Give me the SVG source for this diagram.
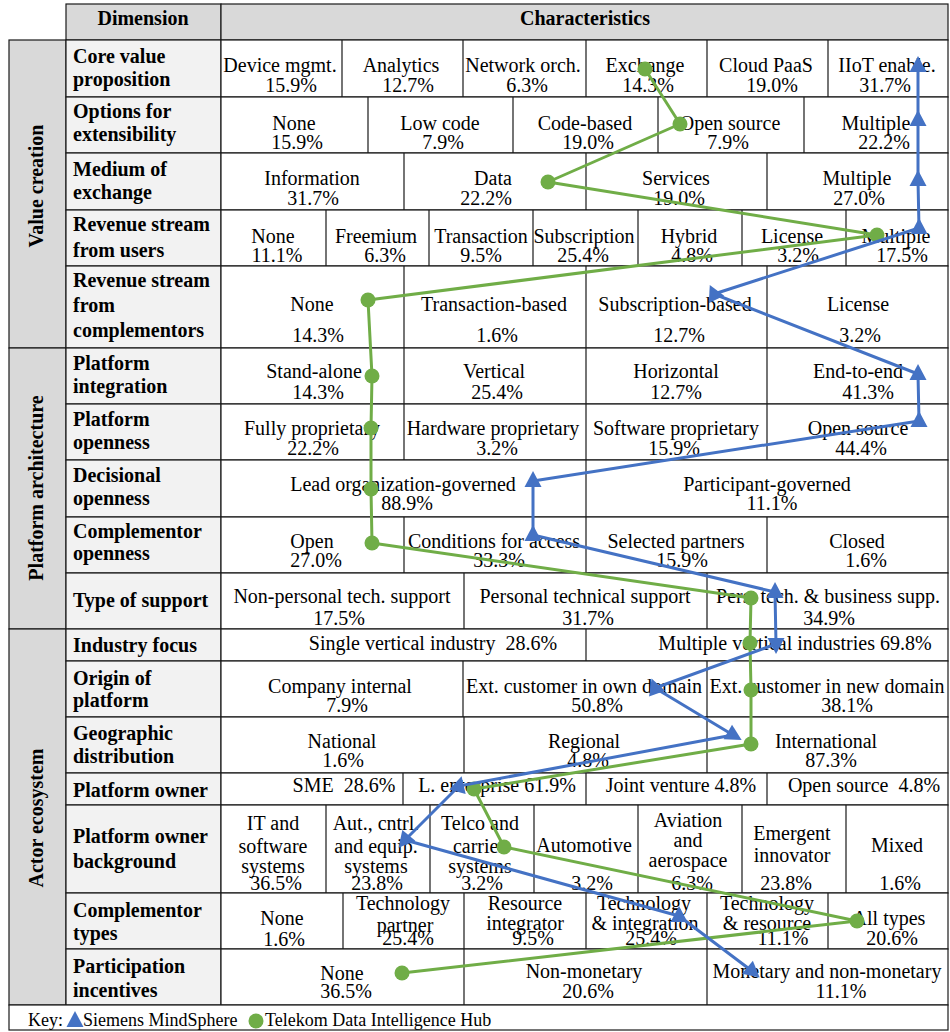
<svg xmlns="http://www.w3.org/2000/svg" xmlns:xlink="http://www.w3.org/1999/xlink" width="950" height="1032" viewBox="0 0 950 1032">
<defs>
<style>
.hd{fill:#d9d9d9;stroke:#1a1a1a;stroke-width:1.2}
.cat{fill:#d9d9d9;stroke:#1a1a1a;stroke-width:1.2}
.dim{fill:#f2f2f2;stroke:#1a1a1a;stroke-width:1.2}
.cell{fill:#ffffff;stroke:#1a1a1a;stroke-width:1.2}
.sep{fill:none;stroke:#1a1a1a;stroke-width:1.2}
text{font-family:"Liberation Serif","Times New Roman",serif;font-size:20px;fill:#000}
.t{text-anchor:middle}
.b{font-weight:bold;text-anchor:middle}
.dl{font-weight:bold;text-anchor:start}
.k{font-size:18px}
.pre{white-space:pre}
.gl{fill:none;stroke:#70ad47;stroke-width:3;stroke-linejoin:round}
.bl{fill:none;stroke:#4472c4;stroke-width:3;stroke-linejoin:round}
</style>
<path id="tri" d="M0,-10 L8.5,6 L-8.5,6 Z" fill="#4472c4"/>
<circle id="dot" r="7.5" fill="#70ad47"/>
</defs>
<rect x="0" y="0" width="950" height="1032" fill="#ffffff"/>

<g id="header">
<rect class="hd" x="66" y="4" width="155" height="36"/>
<rect class="hd" x="221" y="4" width="727" height="36"/>
<text class="b" x="143" y="25">Dimension</text>
<text class="b" x="585" y="25">Characteristics</text>
</g>

<g id="cat-value-creation">
<rect class="cat" x="9" y="40" width="57" height="308"/>
<text class="b" transform="translate(43,186) rotate(-90)">Value creation</text>
</g>
<g id="cat-platform-architecture">
<rect class="cat" x="9" y="348" width="57" height="281"/>
<text class="b" transform="translate(43,488) rotate(-90)">Platform architecture</text>
</g>
<g id="cat-actor-ecosystem">
<rect class="cat" x="9" y="629" width="57" height="376"/>
<text class="b" transform="translate(43,818) rotate(-90)">Actor ecosystem</text>
</g>

<g id="row-core-value">
<rect class="dim" x="66" y="40" width="155" height="57"/>
<rect class="cell" x="221" y="40" width="727" height="57"/>
<path class="sep" d="M342 40V97M463 40V97M586 40V97M707 40V97M828 40V97"/>
<text class="dl" x="73" y="63">Core value</text><text class="dl" x="73" y="86">proposition</text>
<text class="t" x="280" y="72">Device mgmt.</text><text class="t" x="291" y="92">15.9%</text>
<text class="t" x="401" y="72">Analytics</text><text class="t" x="408" y="92">12.7%</text>
<text class="t" x="523" y="72">Network orch.</text><text class="t" x="527" y="92">6.3%</text>
<text class="t" x="645" y="72">Exchange</text><text class="t" x="648" y="92">14.3%</text>
<text class="t" x="766" y="72">Cloud PaaS</text><text class="t" x="772" y="92">19.0%</text>
<text class="t" x="887" y="72">IIoT enable.</text><text class="t" x="885" y="92">31.7%</text>
</g>

<g id="row-extensibility">
<rect class="dim" x="66" y="97" width="155" height="56"/>
<rect class="cell" x="221" y="97" width="727" height="56"/>
<path class="sep" d="M368 97V153M513 97V153M658 97V153M804 97V153"/>
<text class="dl" x="73" y="118">Options for</text><text class="dl" x="73" y="141">extensibility</text>
<text class="t" x="294" y="130">None</text><text class="t" x="297" y="149">15.9%</text>
<text class="t" x="440" y="130">Low code</text><text class="t" x="443" y="149">7.9%</text>
<text class="t" x="585" y="130">Code-based</text><text class="t" x="588" y="149">19.0%</text>
<text class="t" x="730" y="130">Open source</text><text class="t" x="728" y="149">7.9%</text>
<text class="t" x="876" y="130">Multiple</text><text class="t" x="884" y="149">22.2%</text>
</g>

<g id="row-medium">
<rect class="dim" x="66" y="153" width="155" height="57"/>
<rect class="cell" x="221" y="153" width="727" height="57"/>
<path class="sep" d="M404 153V210M586 153V210M767 153V210"/>
<text class="dl" x="73" y="176">Medium of</text><text class="dl" x="73" y="199">exchange</text>
<text class="t" x="312" y="185">Information</text><text class="t" x="313" y="205">31.7%</text>
<text class="t" x="493" y="185">Data</text><text class="t" x="486" y="205">22.2%</text>
<text class="t" x="676" y="185">Services</text><text class="t" x="679" y="205">19.0%</text>
<text class="t" x="857" y="185">Multiple</text><text class="t" x="859" y="205">27.0%</text>
</g>

<g id="row-revenue-users">
<rect class="dim" x="66" y="210" width="155" height="56"/>
<rect class="cell" x="221" y="210" width="727" height="56"/>
<path class="sep" d="M326 210V266M429 210V266M533 210V266M638 210V266M742 210V266M846 210V266"/>
<text class="dl" x="73" y="231">Revenue stream</text><text class="dl" x="73" y="257">from users</text>
<text class="t" x="273" y="243">None</text><text class="t" x="277" y="262">11.1%</text>
<text class="t" x="376" y="243">Freemium</text><text class="t" x="385" y="262">6.3%</text>
<text class="t" x="481" y="243">Transaction</text><text class="t" x="481" y="262">9.5%</text>
<text class="t" x="584" y="243">Subscription</text><text class="t" x="583" y="262">25.4%</text>
<text class="t" x="689" y="243">Hybrid</text><text class="t" x="692" y="262">4.8%</text>
<text class="t" x="792" y="243">License</text><text class="t" x="798" y="262">3.2%</text>
<text class="t" x="896" y="243">Multiple</text><text class="t" x="902" y="262">17.5%</text>
</g>

<g id="row-revenue-complementors">
<rect class="dim" x="66" y="266" width="155" height="82"/>
<rect class="cell" x="221" y="266" width="727" height="82"/>
<path class="sep" d="M404 266V348M586 266V348M767 266V348"/>
<text class="dl" x="73" y="287">Revenue stream</text><text class="dl" x="73" y="312">from</text><text class="dl" x="73" y="337">complementors</text>
<text class="t" x="312" y="311">None</text><text class="t" x="318" y="342">14.3%</text>
<text class="t" x="494" y="311">Transaction-based</text><text class="t" x="497" y="342">1.6%</text>
<text class="t" x="675" y="311">Subscription-based</text><text class="t" x="679" y="342">12.7%</text>
<text class="t" x="858" y="311">License</text><text class="t" x="860" y="342">3.2%</text>
</g>

<g id="row-platform-integration">
<rect class="dim" x="66" y="348" width="155" height="56"/>
<rect class="cell" x="221" y="348" width="727" height="56"/>
<path class="sep" d="M404 348V404M586 348V404M767 348V404"/>
<text class="dl" x="73" y="370">Platform</text><text class="dl" x="73" y="393">integration</text>
<text class="t" x="314" y="378">Stand-alone</text><text class="t" x="318" y="399">14.3%</text>
<text class="t" x="494" y="378">Vertical</text><text class="t" x="497" y="399">25.4%</text>
<text class="t" x="676" y="378">Horizontal</text><text class="t" x="676" y="399">12.7%</text>
<text class="t" x="858" y="378">End-to-end</text><text class="t" x="868" y="399">41.3%</text>
</g>

<g id="row-platform-openness">
<rect class="dim" x="66" y="404" width="155" height="56"/>
<rect class="cell" x="221" y="404" width="727" height="56"/>
<path class="sep" d="M404 404V460M586 404V460M767 404V460"/>
<text class="dl" x="73" y="426">Platform</text><text class="dl" x="73" y="449">openness</text>
<text class="t" x="312" y="435">Fully proprietary</text><text class="t" x="313" y="455">22.2%</text>
<text class="t" x="493" y="435">Hardware proprietary</text><text class="t" x="497" y="455">3.2%</text>
<text class="t" x="676" y="435">Software proprietary</text><text class="t" x="674" y="455">15.9%</text>
<text class="t" x="858" y="435">Open source</text><text class="t" x="861" y="455">44.4%</text>
</g>

<g id="row-decisional-openness">
<rect class="dim" x="66" y="460" width="155" height="57"/>
<rect class="cell" x="221" y="460" width="727" height="57"/>
<path class="sep" d="M586 460V517"/>
<text class="dl" x="73" y="482">Decisional</text><text class="dl" x="73" y="505">openness</text>
<text class="t" x="403" y="491">Lead organization-governed</text><text class="t" x="407" y="510">88.9%</text>
<text class="t" x="767" y="491">Participant-governed</text><text class="t" x="772" y="510">11.1%</text>
</g>

<g id="row-complementor-openness">
<rect class="dim" x="66" y="517" width="155" height="56"/>
<rect class="cell" x="221" y="517" width="727" height="56"/>
<path class="sep" d="M404 517V573M586 517V573M767 517V573"/>
<text class="dl" x="73" y="538">Complementor</text><text class="dl" x="73" y="560">openness</text>
<text class="t" x="312" y="548">Open</text><text class="t" x="316" y="567">27.0%</text>
<text class="t" x="494" y="548">Conditions for access</text><text class="t" x="499" y="567">33.3%</text>
<text class="t" x="676" y="548">Selected partners</text><text class="t" x="682" y="567">15.9%</text>
<text class="t" x="857" y="548">Closed</text><text class="t" x="866" y="567">1.6%</text>
</g>

<g id="row-type-of-support">
<rect class="dim" x="66" y="573" width="155" height="56"/>
<rect class="cell" x="221" y="573" width="727" height="56"/>
<path class="sep" d="M464 573V629M707 573V629"/>
<text class="dl" x="73" y="607">Type of support</text>
<text class="t" x="342" y="603">Non-personal tech. support</text><text class="t" x="339" y="625">17.5%</text>
<text class="t" x="585" y="603">Personal technical support</text><text class="t" x="588" y="625">31.7%</text>
<text class="t" x="828" y="603">Pers. tech. &amp; business supp.</text><text class="t" x="829" y="625">34.9%</text>
</g>

<g id="row-industry-focus">
<rect class="dim" x="66" y="629" width="155" height="32"/>
<rect class="cell" x="221" y="629" width="727" height="32"/>
<path class="sep" d="M586 629V661"/>
<text class="dl" x="73" y="652">Industry focus</text>
<text class="t pre" x="433" y="650">Single vertical industry  28.6%</text>
<text class="t" x="795" y="650">Multiple vertical industries 69.8%</text>
</g>

<g id="row-origin">
<rect class="dim" x="66" y="661" width="155" height="56"/>
<rect class="cell" x="221" y="661" width="727" height="56"/>
<path class="sep" d="M463 661V717M707 661V717"/>
<text class="dl" x="73" y="685">Origin of</text><text class="dl" x="73" y="707">platform</text>
<text class="t" x="340" y="693">Company internal</text><text class="t" x="347" y="712">7.9%</text>
<text class="t" x="584" y="693">Ext. customer in own domain</text><text class="t" x="597" y="712">50.8%</text>
<text class="t" x="827" y="693">Ext. customer in new domain</text><text class="t" x="847" y="712">38.1%</text>
</g>

<g id="row-geographic">
<rect class="dim" x="66" y="717" width="155" height="56"/>
<rect class="cell" x="221" y="717" width="727" height="56"/>
<path class="sep" d="M464 717V773M707 717V773"/>
<text class="dl" x="73" y="740">Geographic</text><text class="dl" x="73" y="763">distribution</text>
<text class="t" x="342" y="748">National</text><text class="t" x="343" y="767">1.6%</text>
<text class="t" x="584" y="748">Regional</text><text class="t" x="588" y="767">4.8%</text>
<text class="t" x="826" y="748">International</text><text class="t" x="831" y="767">87.3%</text>
</g>

<g id="row-platform-owner">
<rect class="dim" x="66" y="773" width="155" height="32"/>
<rect class="cell" x="221" y="773" width="727" height="32"/>
<path class="sep" d="M403 773V805M586 773V805M767 773V805"/>
<text class="dl" x="73" y="797">Platform owner</text>
<text class="t pre" x="344" y="792">SME  28.6%</text>
<text class="t" x="497" y="792">L. enterprise 61.9%</text>
<text class="t" x="681" y="792">Joint venture 4.8%</text>
<text class="t pre" x="864" y="792">Open source  4.8%</text>
</g>

<g id="row-owner-background">
<rect class="dim" x="66" y="805" width="155" height="88"/>
<rect class="cell" x="221" y="805" width="727" height="88"/>
<path class="sep" d="M326 805V893M430 805V893M534 805V893M638 805V893M742 805V893M846 805V893"/>
<text class="dl" x="73" y="843">Platform owner</text><text class="dl" x="73" y="868">background</text>
<text class="t" x="273" y="830">IT and</text><text class="t" x="273" y="853">software</text><text class="t" x="273" y="873">systems</text><text class="t" x="276" y="890">36.5%</text>
<text class="t" x="376" y="830">Aut., cntrl.</text><text class="t" x="376" y="853">and equip.</text><text class="t" x="376" y="873">systems</text><text class="t" x="377" y="890">23.8%</text>
<text class="t" x="480" y="830">Telco and</text><text class="t" x="479" y="853">carrier</text><text class="t" x="480" y="873">systems</text><text class="t" x="482" y="890">3.2%</text>
<text class="t" x="584" y="852">Automotive</text><text class="t" x="592" y="890">3.2%</text>
<text class="t" x="688" y="827">Aviation</text><text class="t" x="688" y="847">and</text><text class="t" x="688" y="867">aerospace</text><text class="t" x="692" y="890">6.3%</text>
<text class="t" x="792" y="840">Emergent</text><text class="t" x="792" y="862">innovator</text><text class="t" x="786" y="890">23.8%</text>
<text class="t" x="897" y="852">Mixed</text><text class="t" x="900" y="890">1.6%</text>
</g>

<g id="row-complementor-types">
<rect class="dim" x="66" y="893" width="155" height="56"/>
<rect class="cell" x="221" y="893" width="727" height="56"/>
<path class="sep" d="M343 893V949M464 893V949M586 893V949M707 893V949M828 893V949"/>
<text class="dl" x="73" y="917">Complementor</text><text class="dl" x="73" y="940">types</text>
<text class="t" x="282" y="925">None</text><text class="t" x="284" y="946">1.6%</text>
<text class="t" x="403" y="910">Technology</text><text class="t" x="405" y="932">partner</text><text class="t" x="408" y="945">25.4%</text>
<text class="t" x="525" y="910">Resource</text><text class="t" x="525" y="930">integrator</text><text class="t" x="533" y="945">9.5%</text>
<text class="t" x="644" y="910">Technology</text><text class="t" x="645" y="930">&amp; integration</text><text class="t" x="651" y="945">25.4%</text>
<text class="t" x="767" y="910">Technology</text><text class="t" x="767" y="930">&amp; resource</text><text class="t" x="783" y="945">11.1%</text>
<text class="t" x="889" y="925">All types</text><text class="t" x="892" y="945">20.6%</text>
</g>

<g id="row-participation">
<rect class="dim" x="66" y="949" width="155" height="56"/>
<rect class="cell" x="221" y="949" width="727" height="56"/>
<path class="sep" d="M464 949V1005M707 949V1005"/>
<text class="dl" x="73" y="973">Participation</text><text class="dl" x="73" y="997">incentives</text>
<text class="t" x="342" y="980">None</text><text class="t" x="346" y="998">36.5%</text>
<text class="t" x="584" y="978">Non-monetary</text><text class="t" x="588" y="998">20.6%</text>
<text class="t" x="827" y="978">Monetary and non-monetary</text><text class="t" x="841" y="998">11.1%</text>
</g>

<g id="key">
<rect class="cell" x="9" y="1005" width="939" height="25"/>
<text class="k" x="28" y="1026">Key:</text>
<use xlink:href="#tri" href="#tri" transform="translate(75,1021)"/>
<text class="k" x="83" y="1026">Siemens MindSphere</text>
<use xlink:href="#dot" href="#dot" x="256" y="1021"/>
<text class="k" x="265" y="1026">Telekom Data Intelligence Hub</text>
</g>

<g id="connectors">
<g id="series-telekom">
<polyline class="gl" points="645,69 680,124 548,182 877,235 368,300 372,376 371,428 371,489 372,543 751,598 750,643 751,690 751,744 474,789 504,847 857,921 402,973"/>
<use href="#dot" x="645" y="69"/><use href="#dot" x="680" y="124"/><use href="#dot" x="548" y="182"/><use href="#dot" x="877" y="235"/>
<use href="#dot" x="368" y="300"/><use href="#dot" x="372" y="376"/><use href="#dot" x="371" y="428"/><use href="#dot" x="371" y="489"/>
<use href="#dot" x="372" y="543"/><use href="#dot" x="751" y="598"/><use href="#dot" x="750" y="643"/><use href="#dot" x="751" y="690"/>
<use href="#dot" x="751" y="744"/><use href="#dot" x="474" y="789"/><use href="#dot" x="504" y="847"/><use href="#dot" x="857" y="921"/>
<use href="#dot" x="402" y="973"/>
</g>
<g id="series-siemens">
<polyline class="bl" points="918,66 918,120 918,180 919,228 714,294 918,374 919,421 533,481 533,535 775,592 776,644 655,688 733,735 459,786 405,840 679,916 752,971"/>
<use href="#tri" transform="translate(918,66)"/>
<use href="#tri" transform="translate(918,120)"/>
<use href="#tri" transform="translate(918,180)"/>
<use href="#tri" transform="translate(919,228)"/>
<use href="#tri" transform="translate(714,294) rotate(-25)"/>
<use href="#tri" transform="translate(918,374)"/>
<use href="#tri" transform="translate(919,421)"/>
<use href="#tri" transform="translate(533,481)"/>
<use href="#tri" transform="translate(533,535)"/>
<use href="#tri" transform="translate(775,592)"/>
<use href="#tri" transform="translate(776,644) rotate(180)"/>
<use href="#tri" transform="translate(655,688) rotate(-20)"/>
<use href="#tri" transform="translate(733,735) rotate(120)"/>
<use href="#tri" transform="translate(459,786) rotate(15)"/>
<use href="#tri" transform="translate(405,840) rotate(220)"/>
<use href="#tri" transform="translate(679,916)"/>
<use href="#tri" transform="translate(752,971) rotate(130)"/>
</g>
</g>
</svg>
